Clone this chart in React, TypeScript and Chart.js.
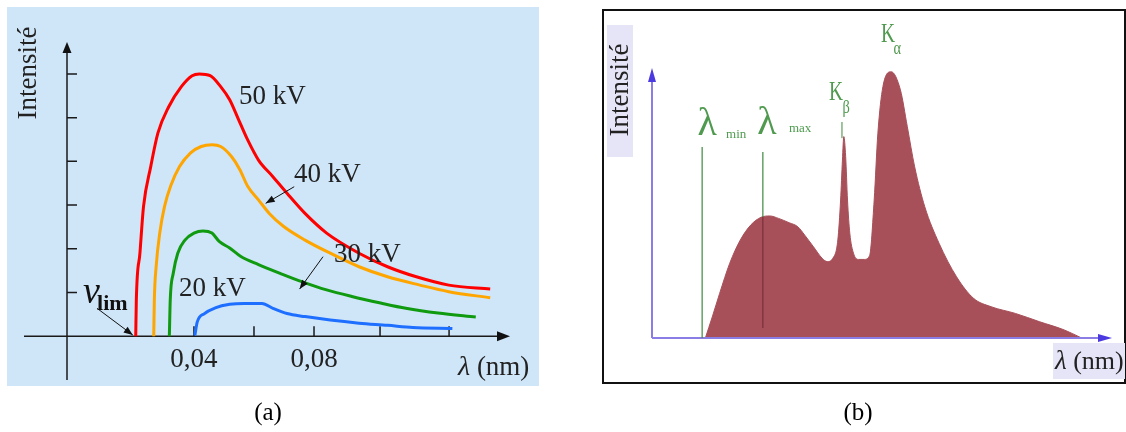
import React, { useEffect, useRef } from "react";
import { Chart, registerables } from "chart.js";

Chart.register(...registerables);

const SERIF = "'Liberation Serif', 'DejaVu Serif', 'Times New Roman', serif";

// ---------------- Panel (a): continuous spectrum for several tube voltages ----------------
const lambda50kV = [0.0206, 0.0208, 0.022, 0.0232, 0.0256, 0.028, 0.0316, 0.0358, 0.0394, 0.0418, 0.0454, 0.0489, 0.0519, 0.0549, 0.0579, 0.0615, 0.0663, 0.071, 0.077, 0.0842, 0.095, 0.1045, 0.1141, 0.1249, 0.1387];
const intensity50kV = [0, 0.83, 1.9, 2.97, 3.88, 4.65, 5.25, 5.71, 5.96, 6.0, 5.96, 5.71, 5.41, 4.95, 4.49, 4.03, 3.65, 3.27, 2.81, 2.36, 1.9, 1.59, 1.36, 1.17, 1.08];

const lambda40kV = [0.0266, 0.0268, 0.0274, 0.0286, 0.0302, 0.0322, 0.0352, 0.0388, 0.0424, 0.046, 0.0489, 0.0525, 0.0553, 0.0579, 0.0615, 0.0651, 0.0699, 0.077, 0.0854, 0.095, 0.1045, 0.1153, 0.1249, 0.1387];
const intensity40kV = [0, 0.83, 1.59, 2.36, 2.97, 3.43, 3.88, 4.19, 4.34, 4.38, 4.34, 4.11, 3.81, 3.43, 3.12, 2.81, 2.51, 2.2, 1.9, 1.59, 1.36, 1.17, 1.02, 0.88];

const lambda30kV = [0.0318, 0.0321, 0.0331, 0.0346, 0.037, 0.04, 0.043, 0.046, 0.0484, 0.0519, 0.0555, 0.0615, 0.0687, 0.0759, 0.0842, 0.0926, 0.1022, 0.1106, 0.1213, 0.1339];
const intensity30kV = [0, 0.83, 1.44, 1.9, 2.2, 2.36, 2.41, 2.36, 2.17, 2.02, 1.83, 1.64, 1.44, 1.25, 1.06, 0.91, 0.76, 0.64, 0.53, 0.44];

const lambda20kV = [0.0403, 0.0411, 0.0435, 0.0471, 0.0519, 0.0567, 0.0627, 0.0663, 0.071, 0.077, 0.0854, 0.095, 0.1045, 0.1129, 0.1261];
const intensity20kV = [0.02, 0.33, 0.52, 0.65, 0.73, 0.75, 0.75, 0.64, 0.52, 0.45, 0.37, 0.3, 0.25, 0.2, 0.18];

const curveLabels = ["50 kV", "40 kV", "30 kV", "20 kV"];
const curveColors = ["#ff0000", "#ffa500", "#109a10", "#1e6fff"];
const xTickLabels = ["0,04", "0,08"];
const xTickLabelValues = [0.04, 0.08];
const xTickMarks = [0.04, 0.06, 0.08, 0.102, 0.125];
const yTickMarks = [1, 2, 3, 4, 5, 6];
const yTitle = "Intensité";
const xTitleSymbol = "λ";
const xTitleUnit = " (nm)";
const limSymbol = "ν";
const limSub = "lim";

// annotation anchors (data coordinates of panel a)
const curveLabelLambda = [0.055, 0.0733, 0.0867, 0.035];
const curveLabelI = [5.48, 3.69, 1.86, 1.08];

// ---------------- Panel (b): spectrum with characteristic lines ----------------
const specLambda = [11.6, 13.1, 14.7, 16.9, 19.2, 21.5, 23.7, 25.6, 27.5, 29.8, 31.7, 33.2, 35.1, 37.0, 38.1, 39.3, 40.4, 41.0, 41.4, 41.7, 42.1, 42.5, 43.0, 43.8, 44.9, 46.1, 47.3, 48.3, 49.1, 50.2, 52.0, 54.0, 55.5, 57.1, 59.3, 62.4, 66.2, 69.9, 73.7, 79.0, 84.3, 89.6, 93.4];
const specIntensity = [0, 7.8, 16.5, 27.7, 36.3, 41.9, 44.7, 45.2, 44.3, 42.7, 41.2, 38.1, 33.8, 29.5, 28.3, 29.5, 36.3, 51.1, 65.9, 74.6, 67.2, 51.1, 38.8, 31.4, 29.1, 29.1, 30.5, 51.1, 75.8, 93.1, 98.6, 91.9, 78.3, 63.4, 48.6, 35.1, 22.7, 14.7, 11.6, 9.1, 6.0, 3.0, 0];
const lambdaMinValue = 10.9;
const lambdaMaxValue = 24.1;
const kBetaValue = 41.3;
const kAlphaValue = 52.0;

const pts = (xs: number[], ys: number[]) => xs.map((x, i) => ({ x, y: ys[i] }));

function interp(xs: number[], ys: number[], x: number) {
  for (let i = 0; i < xs.length - 1; i++) {
    if (x >= xs[i] && x <= xs[i + 1]) {
      const t = (x - xs[i]) / (xs[i + 1] - xs[i]);
      return ys[i] + t * (ys[i + 1] - ys[i]);
    }
  }
  return 0;
}

function arrowHead(ctx: CanvasRenderingContext2D, x1: number, y1: number, x2: number, y2: number, len: number, halfW: number, color: string) {
  const a = Math.atan2(y2 - y1, x2 - x1);
  const bx = x2 - len * Math.cos(a);
  const by = y2 - len * Math.sin(a);
  ctx.save();
  ctx.fillStyle = color;
  ctx.beginPath();
  ctx.moveTo(x2, y2);
  ctx.lineTo(bx + halfW * Math.sin(a), by - halfW * Math.cos(a));
  ctx.lineTo(bx - halfW * Math.sin(a), by + halfW * Math.cos(a));
  ctx.closePath();
  ctx.fill();
  ctx.restore();
}

function arrow(ctx: CanvasRenderingContext2D, x1: number, y1: number, x2: number, y2: number, color: string) {
  ctx.save();
  ctx.strokeStyle = color;
  ctx.lineWidth = 1;
  ctx.beginPath();
  ctx.moveTo(x1, y1);
  ctx.lineTo(x2, y2);
  ctx.stroke();
  ctx.restore();
  arrowHead(ctx, x1, y1, x2, y2, 9, 3.5, color);
}

const panelAPlugin = {
  id: "panelA",
  beforeDraw(chart: any) {
    const { ctx } = chart;
    ctx.save();
    ctx.fillStyle = "#cfe5f8";
    ctx.fillRect(7, 7, 532, 379);
    ctx.restore();
  },
  beforeDatasetsDraw(chart: any) {
    const { ctx, chartArea: ca, scales } = chart;
    const xs = scales.x;
    const ys = scales.y;
    const ax = xs.getPixelForValue(xs.min);
    const ay = ys.getPixelForValue(0);
    ctx.save();
    ctx.strokeStyle = "#1a1a1a";
    ctx.lineWidth = 1.5;
    ctx.beginPath();
    ctx.moveTo(ax, ca.bottom);
    ctx.lineTo(ax, ca.top + 6);
    ctx.moveTo(24, ay);
    ctx.lineTo(ca.right - 6, ay);
    ctx.stroke();
    ctx.beginPath();
    yTickMarks.forEach((v) => {
      const py = ys.getPixelForValue(v);
      ctx.moveTo(ax, py);
      ctx.lineTo(ax + 10, py);
    });
    xTickMarks.forEach((v) => {
      const px = xs.getPixelForValue(v);
      ctx.moveTo(px, ay);
      ctx.lineTo(px, ay - 10);
    });
    ctx.stroke();
    arrowHead(ctx, ax, ca.bottom, ax, ca.top, 11, 4.5, "#111");
    arrowHead(ctx, 24, ay, ca.right, ay, 13, 5, "#111");

    ctx.fillStyle = "#222";
    ctx.textBaseline = "middle";
    ctx.textAlign = "center";
    ctx.font = `27px ${SERIF}`;
    xTickLabels.forEach((t, i) => {
      ctx.fillText(t, xs.getPixelForValue(xTickLabelValues[i]), ay + 24);
    });

    // x title
    ctx.textAlign = "left";
    ctx.font = `italic 28px ${SERIF}`;
    const w1 = ctx.measureText(xTitleSymbol).width;
    ctx.fillText(xTitleSymbol, 458, 368);
    ctx.font = `27px ${SERIF}`;
    ctx.fillText(xTitleUnit, 458 + w1, 368);

    // y title
    ctx.save();
    ctx.translate(29, 73);
    ctx.rotate(-Math.PI / 2);
    ctx.textAlign = "center";
    ctx.font = `27px ${SERIF}`;
    ctx.fillText(yTitle, 0, 0);
    ctx.restore();

    // caption
    ctx.textAlign = "center";
    ctx.font = `25px ${SERIF}`;
    ctx.fillStyle = "#000";
    ctx.fillText("(a)", 268, 413);
    ctx.restore();
  },
  afterDatasetsDraw(chart: any) {
    const { ctx, scales } = chart;
    const xs = scales.x;
    const ys = scales.y;
    const P = (l: number, i: number) => [xs.getPixelForValue(l), ys.getPixelForValue(i)];
    ctx.save();
    ctx.fillStyle = "#222";
    ctx.textBaseline = "middle";
    ctx.textAlign = "left";
    ctx.font = `27px ${SERIF}`;
    curveLabels.forEach((t, i) => {
      const [px, py] = P(curveLabelLambda[i], curveLabelI[i]);
      ctx.fillText(t, px, py);
    });
    // arrows to curves
    let a = P(0.0734, 3.42), b = P(0.0639, 3.04);
    arrow(ctx, a[0], a[1], b[0], b[1], "#111");
    a = P(0.083, 1.82); b = P(0.0752, 1.08);
    arrow(ctx, a[0], a[1], b[0], b[1], "#111");
    a = P(0.0077, 0.64); b = P(0.0196, 0.03);
    arrow(ctx, a[0], a[1], b[0], b[1], "#111");
    // nu_lim
    const [nx, ny] = P(0.003, 0.99);
    ctx.fillStyle = "#111";
    ctx.font = `italic 38px ${SERIF}`;
    ctx.fillText(limSymbol, nx, ny);
    const [lx, ly] = P(0.0077, 0.72);
    ctx.font = `bold 22px ${SERIF}`;
    ctx.fillText(limSub, lx, ly);
    ctx.restore();
  },
};

const GREEN_TXT = "#4f9a4f";
const GREEN_LINE = "#3d8b3d";
const AXIS_B = "#8a7ee6";
const ARROW_B = "#4a3ae0";

const panelBPlugin = {
  id: "panelB",
  beforeDraw(chart: any) {
    const { ctx } = chart;
    ctx.save();
    ctx.fillStyle = "#ffffff";
    ctx.fillRect(0, 0, chart.width, chart.height);
    ctx.strokeStyle = "#111";
    ctx.lineWidth = 2;
    ctx.strokeRect(23, 10, 522, 373);
    // label boxes
    ctx.fillStyle = "#e6e4f7";
    ctx.fillRect(27, 25, 26, 132);
    ctx.fillRect(473, 343, 72, 36);
    ctx.fillStyle = "#222";
    ctx.textBaseline = "middle";
    ctx.save();
    ctx.translate(41, 90);
    ctx.rotate(-Math.PI / 2);
    ctx.textAlign = "center";
    ctx.font = `27px ${SERIF}`;
    ctx.fillText(yTitle, 0, 0);
    ctx.restore();
    ctx.textAlign = "left";
    ctx.font = `italic 27px ${SERIF}`;
    const w1 = ctx.measureText(xTitleSymbol).width;
    ctx.fillText(xTitleSymbol, 475, 362);
    ctx.font = `26px ${SERIF}`;
    ctx.fillText(xTitleUnit, 475 + w1, 362);
    // caption
    ctx.fillStyle = "#000";
    ctx.textAlign = "center";
    ctx.font = `25px ${SERIF}`;
    ctx.fillText("(b)", 278, 413);
    ctx.restore();
  },
  afterDatasetsDraw(chart: any) {
    const { ctx, chartArea: ca, scales } = chart;
    const xs = scales.x;
    const ys = scales.y;
    const X = (v: number) => xs.getPixelForValue(v);
    const Y = (v: number) => ys.getPixelForValue(v);
    ctx.save();
    // axes
    ctx.strokeStyle = AXIS_B;
    ctx.lineWidth = 2;
    ctx.beginPath();
    ctx.moveTo(ca.left, ca.bottom);
    ctx.lineTo(ca.left, ca.top + 8);
    ctx.moveTo(ca.left, ca.bottom);
    ctx.lineTo(ca.right - 8, ca.bottom);
    ctx.stroke();
    arrowHead(ctx, ca.left, ca.bottom, ca.left, ca.top, 14, 4, ARROW_B);
    arrowHead(ctx, ca.left, ca.bottom, ca.right, ca.bottom, 14, 4, ARROW_B);

    // lambda min / max lines
    ctx.lineWidth = 1.2;
    ctx.strokeStyle = GREEN_LINE;
    ctx.beginPath();
    ctx.moveTo(X(lambdaMinValue), Y(0));
    ctx.lineTo(X(lambdaMinValue), Y(70.7));
    ctx.moveTo(X(lambdaMaxValue), Y(interp(specLambda, specIntensity, lambdaMaxValue)));
    ctx.lineTo(X(lambdaMaxValue), Y(68.9));
    ctx.stroke();
    ctx.strokeStyle = "rgba(110,40,50,0.8)";
    ctx.beginPath();
    ctx.moveTo(X(lambdaMaxValue), Y(3.7));
    ctx.lineTo(X(lambdaMaxValue), Y(interp(specLambda, specIntensity, lambdaMaxValue)));
    ctx.stroke();
    ctx.strokeStyle = GREEN_LINE;
    ctx.lineWidth = 1;
    ctx.beginPath();
    ctx.moveTo(X(kBetaValue), Y(80));
    ctx.lineTo(X(kBetaValue), Y(74));
    ctx.stroke();

    // labels
    ctx.fillStyle = GREEN_TXT;
    ctx.textBaseline = "middle";
    ctx.textAlign = "center";
    ctx.font = `40px ${SERIF}`;
    ctx.fillText(xTitleSymbol, X(12.0), Y(78.9));
    ctx.fillText(xTitleSymbol, X(25.0), Y(79.6));
    ctx.font = `13px ${SERIF}`;
    ctx.fillText("min", X(18.3), Y(75.2));
    ctx.fillText("max", X(32.2), Y(77.4));

    const drawK = (cx: number, cy: number, sub: string, sx: number, sy: number) => {
      ctx.save();
      ctx.translate(cx, cy);
      ctx.scale(0.72, 1);
      ctx.font = `27px ${SERIF}`;
      ctx.fillText("K", 0, 0);
      ctx.restore();
      ctx.save();
      ctx.translate(sx, sy);
      ctx.scale(0.8, 1);
      ctx.font = `18px ${SERIF}`;
      ctx.fillText(sub, 0, 0);
      ctx.restore();
    };
    drawK(X(kBetaValue - 1.3), Y(90.7), "β", X(kBetaValue + 0.9), Y(85.2));
    drawK(X(kAlphaValue - 0.7), Y(112.2), "α", X(kAlphaValue + 1.3), Y(106.9));
    ctx.restore();
  },
};

export default function App() {
  const refA = useRef<HTMLCanvasElement>(null);
  const refB = useRef<HTMLCanvasElement>(null);

  useEffect(() => {
    const lambdas = [lambda50kV, lambda40kV, lambda30kV, lambda20kV];
    const intens = [intensity50kV, intensity40kV, intensity30kV, intensity20kV];
    const chartA = new Chart(refA.current as HTMLCanvasElement, {
      type: "line",
      data: {
        datasets: curveLabels.map((label, i) => ({
          label,
          data: pts(lambdas[i], intens[i]),
          borderColor: curveColors[i],
          backgroundColor: curveColors[i],
          borderWidth: 3,
          pointRadius: 0,
          fill: false,
          cubicInterpolationMode: "monotone" as const,
          borderCapStyle: "butt" as const,
        })),
      },
      options: {
        responsive: false,
        animation: false,
        devicePixelRatio: 1,
        events: [],
        layout: { padding: { left: 67, right: 70, top: 42, bottom: 52 } },
        plugins: { legend: { display: false }, tooltip: { enabled: false } },
        scales: {
          x: { type: "linear", min: -0.0023, max: 0.1453, display: false },
          y: { type: "linear", min: -1, max: 6.73, display: false },
        },
      },
      plugins: [panelAPlugin],
    } as any);

    const chartB = new Chart(refB.current as HTMLCanvasElement, {
      type: "line",
      data: {
        datasets: [
          {
            label: "Spectre",
            data: pts(specLambda, specIntensity),
            borderColor: "#a8505a",
            backgroundColor: "#a8505a",
            borderWidth: 1,
            pointRadius: 0,
            fill: "origin",
            cubicInterpolationMode: "monotone" as const,
          },
        ],
      },
      options: {
        responsive: false,
        animation: false,
        devicePixelRatio: 1,
        events: [],
        layout: { padding: { left: 72, right: 14, top: 68, bottom: 94 } },
        plugins: { legend: { display: false }, tooltip: { enabled: false } },
        scales: {
          x: { type: "linear", min: 0, max: 100, display: false },
          y: { type: "linear", min: 0, max: 100, display: false },
        },
      },
      plugins: [panelBPlugin],
    } as any);

    return () => {
      chartA.destroy();
      chartB.destroy();
    };
  }, []);

  return (
    <div style={{ position: "fixed", left: 0, top: 0, width: 1126, height: 432, background: "#fff" }}>
      <canvas ref={refA} width={580} height={432} style={{ position: "absolute", left: 0, top: 0, width: 580, height: 432 }} />
      <canvas ref={refB} width={546} height={432} style={{ position: "absolute", left: 580, top: 0, width: 546, height: 432 }} />
    </div>
  );
}
